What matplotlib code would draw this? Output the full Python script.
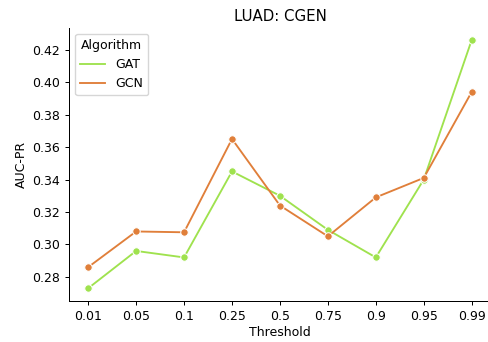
import matplotlib
matplotlib.use("Agg")
import matplotlib.pyplot as plt
from matplotlib.lines import Line2D
import pandas as pd
import seaborn as sns

thresholds = ["0.01", "0.05", "0.1", "0.25", "0.5", "0.75", "0.9", "0.95", "0.99"]
gat = [0.273, 0.296, 0.292, 0.345, 0.330, 0.309, 0.292, 0.340, 0.426]
gcn = [0.286, 0.308, 0.3075, 0.365, 0.324, 0.305, 0.329, 0.341, 0.394]

df = pd.DataFrame({
    "Threshold": thresholds * 2,
    "AUC-PR": gat + gcn,
    "Algorithm": ["GAT"] * len(gat) + ["GCN"] * len(gcn),
})

palette = {"GAT": "#9fe24e", "GCN": "#e07f3a"}

# everything slightly smaller than the matplotlib defaults
plt.rcParams.update({
    "font.size": 9,
    "axes.titlesize": 10.8,
    "axes.labelsize": 9,
    "xtick.labelsize": 9,
    "ytick.labelsize": 9,
    "legend.fontsize": 9,
    "legend.title_fontsize": 9,
    "xtick.major.size": 3.2,
    "ytick.major.size": 3.2,
    "axes.linewidth": 0.72,
    "xtick.major.width": 0.72,
    "ytick.major.width": 0.72,
})

fig = plt.figure(figsize=(4.88, 3.42), dpi=100)
ax = fig.add_axes([0.1414, 0.1208, 0.8645, 0.7986])
sns.lineplot(data=df, x="Threshold", y="AUC-PR", hue="Algorithm",
             palette=palette, marker="o", markersize=5.4, linewidth=1.35,
             ax=ax)
sns.despine(ax=ax)
ax.set_title("LUAD: CGEN", pad=5)
ax.set_xlabel("Threshold", labelpad=2)
ax.set_ylabel("AUC-PR", labelpad=3)

handles = [Line2D([], [], color=palette[k], linewidth=1.35) for k in ["GAT", "GCN"]]
ax.legend(handles, ["GAT", "GCN"], title="Algorithm", loc="upper left")
fig.savefig("out.png", dpi=100)
